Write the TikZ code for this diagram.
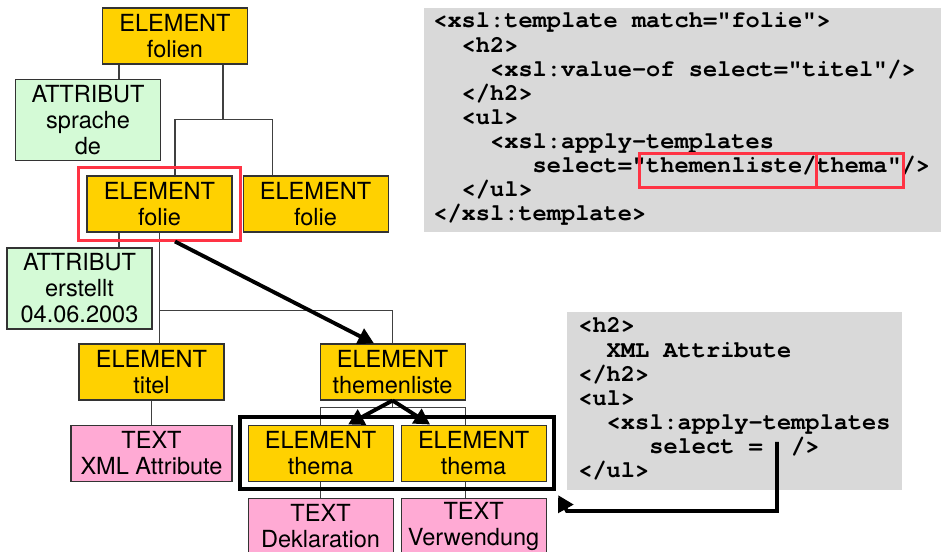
\documentclass[tikz,border=0pt]{standalone}
\usepackage{fontspec}
\setmainfont{TeX Gyre Heros}
\setmonofont{TeX Gyre Cursor}
\usepackage{tikz}
\usetikzlibrary{positioning, fit, arrows.meta}

\definecolor{elemgold}{RGB}{255,209,0}
\definecolor{attrgreen}{RGB}{212,250,214}
\definecolor{textpink}{RGB}{255,170,212}
\definecolor{codegray}{RGB}{217,217,217}
\definecolor{markred}{RGB}{255,51,68}
\definecolor{linkgray}{RGB}{64,64,64}

\begin{document}
\begin{tikzpicture}[
    node distance=0.32cm,
    box/.style={
        draw=black!80,
        rectangle,
        line width=0.6pt,
        minimum width=2.9cm,
        minimum height=1.12cm,
        inner sep=0pt,
        align=center,
        font=\fontsize{13.4pt}{14.8pt}\selectfont
    },
    elembox/.style={
        box,
        fill=elemgold
    },
    attrbox/.style={
        box,
        minimum height=1.62cm,
        fill=attrgreen
    },
    textbox/.style={
        box,
        fill=textpink
    },
    codebox/.style={fill=codegray, inner sep=0pt, anchor=north west},
    code/.style={
        align=left,
        inner sep=0pt,
        font=\fontsize{13.46pt}{13.72pt}\selectfont\ttfamily\bfseries
    },
    hilite/.style={draw=markred, line width=1.7pt, inner sep=0pt, anchor=north west},
    redframe/.style={draw=markred, line width=1.7pt, inner sep=0.15cm},
    groupframe/.style={draw=black, line width=2.3pt, inner sep=0.15cm},
    link/.style={draw=linkgray, line width=0.6pt},
    arrow/.style={-{Triangle[length=9pt, width=9.5pt]}, line width=2.2pt}
]
\useasboundingbox (0,0) rectangle (18.82,-11.04);

% Tree of the XML document
\node[elembox] (folien) at (3.5,-0.72) {ELEMENT\\folien};
\node[attrbox] (sprache) at (1.76,-2.4) {ATTRIBUT\\sprache\\de};
\node[elembox] (folie1) at (3.19,-4.08) {ELEMENT\\folie};
\node[elembox, right=0.2cm of folie1] (folie2) {ELEMENT\\folie};
\node[attrbox] (erstellt) at (1.59,-5.77) {ATTRIBUT\\erstellt\\04.06.2003};
\node[elembox] (titel) at (3.03,-7.44) {ELEMENT\\titel};
\node[textbox, minimum width=3.22cm, below=0.48cm of titel] (xmltext) {TEXT\\XML Attribute};
\node[elembox, right=1.9cm of titel] (themenliste) {ELEMENT\\themenliste};
\node[elembox, below=0.48cm of themenliste, xshift=-1.44cm] (thema1) {ELEMENT\\thema};
\node[elembox, right=0.14cm of thema1] (thema2) {ELEMENT\\thema};
\node[textbox, below=of thema1] (dekl) {TEXT\\Deklaration};
\node[textbox, below=of thema2] (verw) {TEXT\\Verwendung};

% Tree connectors
\coordinate (fs) at ([xshift=-1.12cm]folien.south);
\draw[link] (fs) -- (fs |- sprache.north);
\draw[link] ([xshift=0.96cm]folien.south) -- ++(0,-1.1) coordinate (fork);
\draw[link] ([xshift=0.31cm]folie1.north) |- (fork) -| ([xshift=-0.87cm]folie2.north);
\coordinate (fe) at ([xshift=-0.81cm]folie1.south);
\draw[link] (fe) -- (fe |- erstellt.north);
\draw[link] (folie1.south) -- (folie1.south |- titel.north);
\draw[link] (themenliste.north) -- ++(0,0.66) -| (folie1.south);
\draw[link] (titel) -- (xmltext);
\draw[link] (themenliste.south) -- ++(0,-0.14) coordinate (fork2);
\draw[link] (thema1.north) |- (fork2) -| ([xshift=-0.17cm]thema2.north);
\draw[link] (thema1) -- (dekl);
\draw[link] ([xshift=-0.17cm]thema2.south) -- ([xshift=-0.17cm]verw.north);

% Frames round the selected nodes
\node[redframe, fit=(folie1)] (sel) {};
\node[groupframe, fit=(thema1) (thema2)] (group) {};

% XSL template
\node[codebox, minimum width=10.34cm, minimum height=4.48cm] (xslbox) at (8.48,-0.16) {};
\node[code, below right=0.09cm and 0.18cm of xslbox.north west] (xsltext) {%
<xsl:template match="folie">\\
~~<h2>\\
~~~~<xsl:value-of select="titel"/>\\
~~</h2>\\
~~<ul>\\
~~~~<xsl:apply-templates\\
~~~~~~~select="themenliste/thema"/>\\
~~</ul>\\
</xsl:template>};
\node[hilite, minimum width=3.54cm, minimum height=0.68cm] (pathA) at (12.76,-3.04) {};
\node[hilite, minimum width=1.74cm, minimum height=0.68cm] (pathB) at (16.3,-3.04) {};

% Output so far
\node[codebox, minimum width=6.7cm, minimum height=3.56cm] (outbox) at (11.34,-6.24) {};
\node[code, below right=0.11cm and 0.22cm of outbox.north west] (outtext) {%
<h2>\\
~~XML Attribute\\
</h2>\\
<ul>\\
~~<xsl:apply-templates\\
~~~~~select =~~/>\\
</ul>};

% Thick arrows
\draw[arrow] ([xshift=0.31cm]sel.south) -- ([xshift=-0.37cm]themenliste.north);
\draw[arrow] (themenliste.south) -- ([xshift=0.55cm]thema1.north);
\draw[arrow] (themenliste.south) -- ([xshift=-0.87cm]thema2.north);
\coordinate (gap) at (15.54,-8.84);
\coordinate (turn) at (11.34,-10.22);
\draw[arrow] (gap) |- (turn) -- ([shift={(0.04,-0.08)}]group.south east);

\end{tikzpicture}
\end{document}
